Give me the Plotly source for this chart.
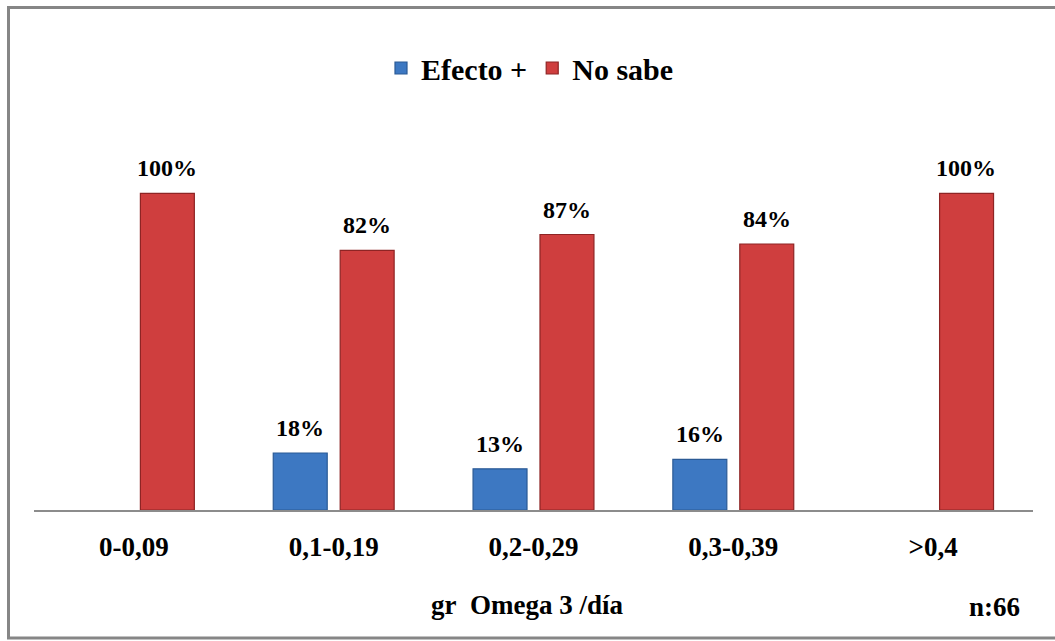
import plotly.graph_objects as go

# Data: share of respondents per daily omega-3 intake band (g/day)
categorias = ["0-0,09", "0,1-0,19", "0,2-0,29", "0,3-0,39", ">0,4"]
efecto_pos = [None, 18, 13, 16, None]
no_sabe = [100, 82, 87, 84, 100]

FONT = "'Liberation Serif', 'Times New Roman', 'DejaVu Serif', serif"
AZUL = "#3D78C2"
AZUL_BORDE = "#2B5A95"
ROJO = "#CF3E3E"
ROJO_BORDE = "#8E2424"

W, H = 1055, 641
M_L, M_R, M_T, M_B = 34, 22, 130, 131
PW = W - M_L - M_R
PH = H - M_T - M_B


def px_x(p):
    return (p - M_L) / PW


def px_y(p):
    return (H - M_B - p) / PH


fig = go.Figure()
fig.add_trace(go.Bar(
    name="Efecto +", x=categorias, y=efecto_pos,
    marker=dict(color=AZUL, line=dict(color=AZUL_BORDE, width=1.2)),
))
fig.add_trace(go.Bar(
    name="No sabe", x=categorias, y=no_sabe,
    marker=dict(color=ROJO, line=dict(color=ROJO_BORDE, width=1.2)),
))

# Value labels above each bar
desplaz = 0.167
anotaciones = []
for serie, dx in ((efecto_pos, -desplaz), (no_sabe, desplaz)):
    for i, v in enumerate(serie):
        if v is None:
            continue
        anotaciones.append(dict(
            x=i + dx, y=v, xref="x", yref="y", text=f"{v}%",
            showarrow=False, yanchor="bottom", yshift=10,
            font=dict(family=FONT, size=24, color="black", weight="bold"),
        ))

anotaciones.append(dict(
    x=px_x(527), y=px_y(605), xref="paper", yref="paper",
    text="gr\u00a0\u00a0Omega 3 /día", showarrow=False,
    xanchor="center", yanchor="middle",
    font=dict(family=FONT, size=27, color="black", weight="bold"),
))
anotaciones.append(dict(
    x=px_x(994), y=px_y(607), xref="paper", yref="paper",
    text="n:66", showarrow=False, xanchor="center", yanchor="middle",
    font=dict(family=FONT, size=27, color="black", weight="bold"),
))

fig.update_layout(
    width=W, height=H,
    margin=dict(l=M_L, r=M_R, t=M_T, b=M_B),
    paper_bgcolor="white", plot_bgcolor="white",
    barmode="group", bargap=0.33, bargroupgap=0.194,
    showlegend=True,
    legend=dict(
        orientation="h", x=px_x(530), y=px_y(68),
        xanchor="center", yanchor="middle",
        font=dict(family=FONT, size=30, color="black", weight="bold"),
        bgcolor="rgba(0,0,0,0)",
    ),
    annotations=anotaciones,
    shapes=[dict(
        type="rect", xref="paper", yref="paper",
        x0=px_x(8.5), x1=px_x(1057), y0=px_y(638), y1=px_y(7.5),
        line=dict(color="#868686", width=3), fillcolor="rgba(0,0,0,0)",
        layer="below",
    )],
)

fig.update_xaxes(
    showline=True, linecolor="#8C8C8C", linewidth=1.5,
    showgrid=False, ticks="", ticklabelstandoff=12,
    tickfont=dict(family=FONT, size=27, color="black", weight="bold"),
)
fig.update_yaxes(
    range=[0, 120], visible=False, showgrid=False, zeroline=False,
)

fig.write_html("out.html")
